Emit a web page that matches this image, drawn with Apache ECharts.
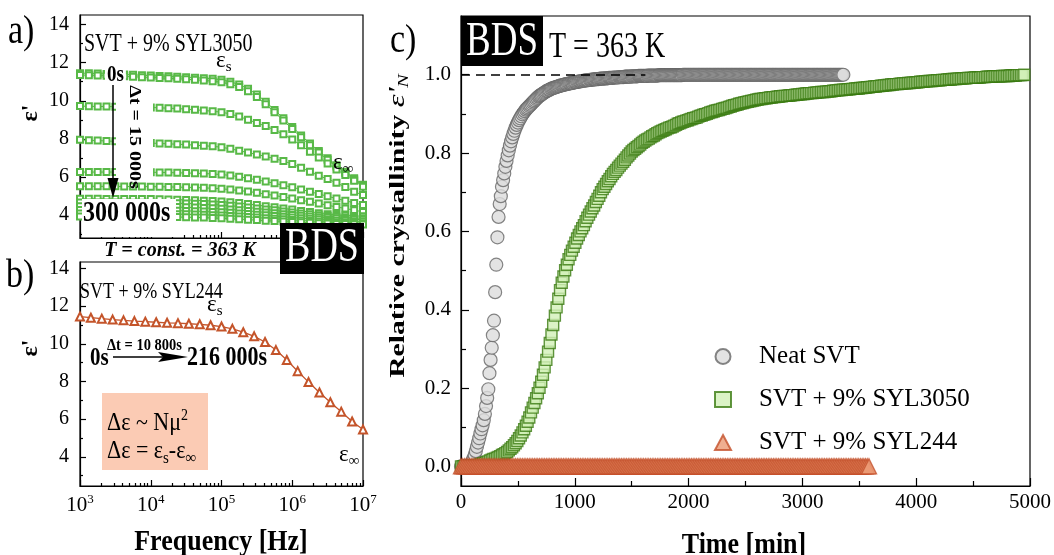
<!DOCTYPE html>
<html>
<head>
<meta charset="UTF-8">
<title>BDS - crystallinity</title>
<script src="https://cdn.jsdelivr.net/npm/echarts@6.0.0/dist/echarts.min.js"></script>
<style>
html, body { margin: 0; padding: 0; background: #fff; }
#main { width: 1054px; height: 555px; }
</style>
</head>
<body>
<div id="main"></div>
<script>
// ---- panel a) SVT + 9% SYL3050, eps' spectra [Hz] ----
var freqA = [1000, 1334, 1778, 2371, 3162, 4217, 5623, 7499,
  10000, 13335, 17783, 23714, 31623, 42170, 56234, 74989,
  100000, 133352, 177828, 237137, 316228, 421697, 562341, 749894,
  1000000, 1333521, 1778279, 2371374, 3162278, 4216965, 5623413, 7498942, 10000000];
var epsA1 = [11.45, 11.44, 11.43, 11.41, 11.40, 11.38, 11.36, 11.34, 11.32, 11.30, 11.28, 11.26, 11.24, 11.21, 11.18, 11.15, 11.10, 11.00, 10.85, 10.63, 10.33, 9.95, 9.52, 9.08, 8.63, 8.18, 7.76, 7.36, 6.98, 6.62, 6.28, 5.93, 5.60];
var epsA2 = [11.35, 11.34, 11.33, 11.31, 11.30, 11.28, 11.26, 11.24, 11.22, 11.20, 11.18, 11.16, 11.13, 11.10, 11.07, 11.03, 10.97, 10.87, 10.72, 10.50, 10.20, 9.82, 9.40, 8.96, 8.52, 8.08, 7.67, 7.28, 6.91, 6.55, 6.21, 5.87, 5.54];
var epsA3 = [9.72, 9.71, 9.70, 9.70, 9.69, 9.68, 9.67, 9.66, 9.65, 9.63, 9.61, 9.59, 9.56, 9.53, 9.49, 9.45, 9.40, 9.31, 9.17, 9.01, 8.83, 8.67, 8.47, 8.24, 7.97, 7.66, 7.33, 7.02, 6.71, 6.40, 6.10, 5.80, 5.49];
var epsA4 = [7.95, 7.93, 7.91, 7.89, 7.87, 7.85, 7.83, 7.80, 7.78, 7.76, 7.74, 7.72, 7.70, 7.67, 7.64, 7.61, 7.56, 7.48, 7.38, 7.28, 7.18, 7.08, 6.96, 6.84, 6.68, 6.49, 6.28, 6.07, 5.89, 5.70, 5.47, 5.23, 5.05];
var epsA5 = [6.26, 6.26, 6.26, 6.26, 6.26, 6.25, 6.25, 6.25, 6.25, 6.24, 6.23, 6.22, 6.21, 6.20, 6.18, 6.16, 6.13, 6.08, 6.01, 5.93, 5.85, 5.76, 5.67, 5.57, 5.46, 5.35, 5.23, 5.11, 4.99, 4.87, 4.76, 4.64, 4.53];
var epsA6 = [5.52, 5.52, 5.51, 5.51, 5.51, 5.50, 5.50, 5.50, 5.49, 5.49, 5.48, 5.47, 5.46, 5.45, 5.43, 5.41, 5.38, 5.34, 5.29, 5.24, 5.18, 5.10, 5.03, 4.95, 4.87, 4.78, 4.70, 4.61, 4.52, 4.43, 4.35, 4.26, 4.17];
var epsA7 = [4.86, 4.86, 4.86, 4.85, 4.85, 4.85, 4.85, 4.84, 4.84, 4.83, 4.82, 4.81, 4.80, 4.78, 4.76, 4.74, 4.71, 4.67, 4.63, 4.58, 4.53, 4.47, 4.41, 4.35, 4.29, 4.22, 4.16, 4.10, 4.05, 4.01, 3.98, 3.96, 3.94];
var epsA8 = [4.66, 4.66, 4.66, 4.66, 4.66, 4.65, 4.65, 4.65, 4.64, 4.64, 4.63, 4.62, 4.61, 4.60, 4.58, 4.56, 4.53, 4.49, 4.45, 4.40, 4.35, 4.30, 4.25, 4.19, 4.14, 4.09, 4.04, 3.99, 3.95, 3.91, 3.88, 3.85, 3.83];
var epsA9 = [4.46, 4.46, 4.46, 4.46, 4.46, 4.45, 4.45, 4.45, 4.44, 4.44, 4.43, 4.42, 4.41, 4.40, 4.38, 4.36, 4.33, 4.30, 4.26, 4.22, 4.18, 4.14, 4.10, 4.05, 4.01, 3.97, 3.93, 3.89, 3.86, 3.83, 3.80, 3.78, 3.76];
var epsA10 = [4.27, 4.27, 4.27, 4.27, 4.27, 4.26, 4.26, 4.26, 4.25, 4.25, 4.24, 4.23, 4.22, 4.21, 4.19, 4.17, 4.15, 4.12, 4.09, 4.06, 4.02, 3.99, 3.95, 3.91, 3.88, 3.84, 3.81, 3.78, 3.75, 3.72, 3.70, 3.68, 3.66];
var epsA11 = [4.09, 4.09, 4.09, 4.09, 4.09, 4.08, 4.08, 4.08, 4.07, 4.07, 4.06, 4.05, 4.04, 4.03, 4.02, 4.00, 3.98, 3.96, 3.93, 3.90, 3.87, 3.84, 3.81, 3.78, 3.75, 3.72, 3.69, 3.67, 3.64, 3.62, 3.60, 3.59, 3.58];
var epsA12 = [3.93, 3.93, 3.93, 3.93, 3.93, 3.92, 3.92, 3.92, 3.91, 3.91, 3.90, 3.90, 3.89, 3.88, 3.87, 3.85, 3.83, 3.81, 3.79, 3.76, 3.74, 3.71, 3.69, 3.66, 3.64, 3.62, 3.60, 3.58, 3.56, 3.54, 3.53, 3.52, 3.51];
var curvesA = [epsA1, epsA2, epsA3, epsA4, epsA5, epsA6, epsA7, epsA8, epsA9, epsA10, epsA11, epsA12];

// ---- panel b) SVT + 9% SYL244 ----
var freqB = [1000, 1425, 2031, 2894, 4125, 5878, 8377, 11938, 17013, 24245, 34551, 49239, 70170,
  100000, 142510, 203092, 289427, 412463, 587802, 837678, 1193776, 1701254, 2424462, 3455107, 4923883, 7017038, 10000000];
var epsB = [11.45, 11.39, 11.34, 11.29, 11.25, 11.21, 11.18, 11.15, 11.12, 11.10, 11.07, 11.04, 10.99,
  10.92, 10.80, 10.62, 10.40, 10.10, 9.67, 9.14, 8.55, 7.97, 7.42, 6.90, 6.40, 5.88, 5.45];

// ---- panel c) relative crystallinity vs time [min] ----
var neatStep = 10;   // min between points
var neatSVT = [
  0, 0, 0, 0, 0, 0, 0, 0, 0.003, 0.008,
  0.014, 0.021, 0.029, 0.039, 0.050, 0.061, 0.072, 0.084, 0.095, 0.105,
  0.118, 0.134, 0.154, 0.175, 0.197, 0.238, 0.272, 0.303, 0.335, 0.372,
  0.445, 0.515, 0.585, 0.637, 0.670, 0.690, 0.714, 0.731, 0.748, 0.765,
  0.780, 0.794, 0.807, 0.819, 0.830, 0.840, 0.849, 0.857, 0.865, 0.872,
  0.878, 0.884, 0.889, 0.894, 0.899, 0.903, 0.907, 0.911, 0.914, 0.917,
  0.920, 0.923, 0.926, 0.929, 0.932, 0.935, 0.938, 0.941, 0.944, 0.946,
  0.948, 0.950, 0.952, 0.954, 0.956, 0.958, 0.959, 0.961, 0.962, 0.964,
  0.965, 0.966, 0.967, 0.968, 0.969, 0.970, 0.971, 0.972, 0.973, 0.973,
  0.974, 0.975, 0.976, 0.976, 0.977, 0.978, 0.978, 0.979, 0.979, 0.980,
  0.981, 0.981, 0.982, 0.982, 0.983, 0.983, 0.984, 0.984, 0.985, 0.985,
  0.986, 0.986, 0.986, 0.987, 0.987, 0.987, 0.988, 0.988, 0.988, 0.989,
  0.989, 0.989, 0.990, 0.990, 0.990, 0.990, 0.991, 0.991, 0.991, 0.991,
  0.992, 0.992, 0.992, 0.992, 0.993, 0.993, 0.993, 0.993, 0.993, 0.994,
  0.994, 0.994, 0.994, 0.994, 0.995, 0.995, 0.995, 0.995, 0.995, 0.995,
  0.996, 0.996, 0.996, 0.996, 0.996, 0.996, 0.997, 0.997, 0.997, 0.997,
  0.997, 0.997, 0.997, 0.997, 0.998, 0.998, 0.998, 0.998, 0.998, 0.998,
  0.998, 0.998, 0.998, 0.998, 0.999, 0.999, 0.999, 0.999, 0.999, 0.999,
  0.999, 0.999, 0.999, 0.999, 0.999, 0.999, 0.999, 0.999, 0.999, 0.999,
  0.999, 0.999, 0.999, 0.999, 0.999, 1, 1, 1, 1, 1,
  1, 1, 1, 1, 1, 1, 1, 1, 1, 1,
  1, 1, 1, 1, 1, 1, 1, 1, 1, 1,
  1, 1, 1, 1, 1, 1, 1, 1, 1, 1,
  1, 1, 1, 1, 1, 1, 1, 1, 1, 1,
  1, 1, 1, 1, 1, 1, 1, 1, 1, 1,
  1, 1, 1, 1, 1, 1, 1, 1, 1, 1,
  1, 1, 1, 1, 1, 1, 1, 1, 1, 1,
  1, 1, 1, 1, 1, 1, 1, 1, 1, 1,
  1, 1, 1, 1, 1, 1, 1, 1, 1, 1,
  1, 1, 1, 1, 1, 1, 1, 1, 1, 1,
  1, 1, 1, 1, 1, 1, 1, 1, 1, 1,
  1, 1, 1, 1, 1, 1, 1, 1, 1, 1,
  1, 1, 1, 1, 1, 1, 1, 1, 1, 1,
  1, 1, 1, 1, 1, 1, 1
];
var sylStep = 15;
var syl3050 = [
  0, 0, 0, 0.001, 0.001, 0.001, 0.002, 0.002, 0.003, 0.003, 0.004, 0.005, 0.006, 0.008, 0.009, 0.011, 0.013, 0.015, 0.017, 0.019,
  0.020, 0.022, 0.024, 0.026, 0.029, 0.031, 0.034, 0.037, 0.041, 0.045, 0.049, 0.054, 0.059, 0.065, 0.072, 0.079, 0.087, 0.095, 0.104, 0.114,
  0.125, 0.138, 0.150, 0.162, 0.174, 0.187, 0.201, 0.216, 0.234, 0.253, 0.272, 0.293, 0.315, 0.337, 0.361, 0.385, 0.406, 0.428, 0.450, 0.469,
  0.485, 0.501, 0.515, 0.529, 0.540, 0.551, 0.561, 0.571, 0.582, 0.591, 0.600, 0.608, 0.616, 0.626, 0.635, 0.643, 0.651, 0.659, 0.666, 0.675,
  0.683, 0.691, 0.700, 0.708, 0.714, 0.721, 0.728, 0.734, 0.741, 0.747, 0.752, 0.757, 0.763, 0.768, 0.773, 0.778, 0.783, 0.789, 0.794, 0.799,
  0.804, 0.808, 0.811, 0.815, 0.818, 0.822, 0.826, 0.829, 0.832, 0.835, 0.837, 0.840, 0.843, 0.845, 0.848, 0.851, 0.853, 0.855, 0.857, 0.859,
  0.861, 0.863, 0.865, 0.866, 0.868, 0.870, 0.872, 0.875, 0.876, 0.878, 0.880, 0.881, 0.883, 0.884, 0.886, 0.887, 0.889, 0.890, 0.891, 0.893,
  0.895, 0.896, 0.898, 0.899, 0.900, 0.902, 0.904, 0.905, 0.906, 0.908, 0.909, 0.910, 0.911, 0.913, 0.914, 0.915, 0.916, 0.918, 0.919, 0.921,
  0.922, 0.923, 0.924, 0.926, 0.927, 0.928, 0.929, 0.930, 0.931, 0.932, 0.933, 0.934, 0.935, 0.936, 0.937, 0.938, 0.938, 0.939, 0.940, 0.940,
  0.941, 0.942, 0.942, 0.943, 0.943, 0.944, 0.944, 0.945, 0.945, 0.946, 0.946, 0.946, 0.947, 0.947, 0.948, 0.948, 0.949, 0.949, 0.950, 0.950,
  0.951, 0.951, 0.952, 0.952, 0.953, 0.953, 0.953, 0.954, 0.954, 0.955, 0.955, 0.956, 0.956, 0.956, 0.957, 0.957, 0.958, 0.958, 0.959, 0.959,
  0.960, 0.960, 0.961, 0.961, 0.962, 0.962, 0.962, 0.963, 0.963, 0.964, 0.964, 0.965, 0.965, 0.965, 0.966, 0.966, 0.967, 0.967, 0.968, 0.968,
  0.969, 0.969, 0.970, 0.970, 0.971, 0.971, 0.972, 0.972, 0.973, 0.973, 0.974, 0.974, 0.975, 0.975, 0.976, 0.976, 0.976, 0.977, 0.977, 0.978,
  0.978, 0.978, 0.979, 0.979, 0.980, 0.980, 0.980, 0.981, 0.981, 0.982, 0.982, 0.982, 0.983, 0.983, 0.984, 0.984, 0.984, 0.985, 0.985, 0.986,
  0.986, 0.986, 0.987, 0.987, 0.987, 0.988, 0.988, 0.988, 0.989, 0.989, 0.989, 0.990, 0.990, 0.990, 0.991, 0.991, 0.991, 0.992, 0.992, 0.992,
  0.992, 0.993, 0.993, 0.993, 0.993, 0.994, 0.994, 0.994, 0.995, 0.995, 0.995, 0.995, 0.996, 0.996, 0.996, 0.996, 0.996, 0.997, 0.997, 0.997,
  0.997, 0.997, 0.998, 0.998, 0.998, 0.998, 0.999, 0.999, 0.999, 0.999, 1.000
];
var syl244Step = 15;
var syl244 = [
  0, 0, 0, 0, 0, 0, 0, 0, 0, 0, 0, 0, 0, 0, 0, 0, 0, 0, 0, 0,
  0, 0, 0, 0, 0, 0, 0, 0, 0, 0, 0, 0, 0, 0, 0, 0, 0, 0, 0, 0,
  0, 0, 0, 0, 0, 0, 0, 0, 0, 0, 0, 0, 0, 0, 0, 0, 0, 0, 0, 0,
  0, 0, 0, 0, 0, 0, 0, 0, 0, 0, 0, 0, 0, 0, 0, 0, 0, 0, 0, 0,
  0, 0, 0, 0, 0, 0, 0, 0, 0, 0, 0, 0, 0, 0, 0, 0, 0, 0, 0, 0,
  0, 0, 0, 0, 0, 0, 0, 0, 0, 0, 0, 0, 0, 0, 0, 0, 0, 0, 0, 0,
  0, 0, 0, 0, 0, 0, 0, 0, 0, 0, 0, 0, 0, 0, 0, 0, 0, 0, 0, 0,
  0, 0, 0, 0, 0, 0, 0, 0, 0, 0, 0, 0, 0, 0, 0, 0, 0, 0, 0, 0,
  0, 0, 0, 0, 0, 0, 0, 0, 0, 0, 0, 0, 0, 0, 0, 0, 0, 0, 0, 0,
  0, 0, 0, 0, 0, 0, 0, 0, 0, 0, 0, 0, 0, 0, 0, 0, 0, 0, 0, 0,
  0, 0, 0, 0, 0, 0, 0, 0, 0, 0, 0, 0, 0, 0, 0, 0, 0, 0, 0, 0,
  0, 0, 0, 0, 0, 0, 0, 0, 0, 0, 0, 0, 0, 0, 0, 0, 0, 0, 0, 0
];
var plateauLineEnd = 1620;   // dashed eps'_N = 1 guide ends here [min]

// tick values
var epsTicks = [4, 6, 8, 10, 12, 14];
var epsMinor = [3, 5, 7, 9, 11, 13];
var decades = [1000, 10000, 100000, 1000000];
var minorMult = [2, 3, 4, 5, 6, 7, 8, 9];
var crystTicks = [0, 0.2, 0.4, 0.6, 0.8, 1.0];
var crystMinor = [0.1, 0.3, 0.5, 0.7, 0.9, 1.1];
var timeMinor = [500, 1500, 2500, 3500, 4500];

var SERIF = 'Liberation Serif, DejaVu Serif, serif';
var GREEN_A = '#58b947';
var ORANGE_B = '#c4542a';

var logMinor = [];
decades.forEach(function (d) {
  minorMult.forEach(function (m) { logMinor.push(Math.log10(m * d)); });
});

function pairs(xs, ys) { return ys.map(function (v, i) { return [xs[i], v]; }); }
function timed(step, ys) { return ys.map(function (v, i) { return [i * step, v]; }); }

var tickLine = { color: '#000', width: 1.2 };
var axisLineBlack = { show: true, onZero: false, lineStyle: { color: '#000', width: 1.2 } };

function logAxisHidden(grid) {
  return { gridIndex: grid, type: 'log', logBase: 10, min: 1000, max: 10000000, show: false };
}
function decadeAxis(grid, labels) {
  return {
    gridIndex: grid, type: 'value', position: 'bottom', min: 3, max: 7, interval: 1,
    axisLine: axisLineBlack,
    axisTick: { show: true, inside: true, length: 6, lineStyle: tickLine },
    splitLine: { show: false },
    axisLabel: labels ? {
      show: true, margin: 7, color: '#000', fontFamily: SERIF, fontSize: 21,
      formatter: function (v) { return '10{sup|' + v + '}'; },
      rich: { sup: { fontFamily: SERIF, fontSize: 13, color: '#000', padding: [0, 0, 11, 0] } }
    } : { show: false }
  };
}
function minorX(grid, vals, len, min, max) {
  return {
    gridIndex: grid, type: 'value', position: 'bottom', min: min, max: max,
    axisLine: { show: false, onZero: false },
    axisTick: { show: true, inside: true, length: len, lineStyle: tickLine, customValues: vals },
    axisLabel: { show: false }, splitLine: { show: false }
  };
}
function epsAxis(grid, min, max) {
  return {
    gridIndex: grid, type: 'value', position: 'left', min: min, max: max,
    axisLine: axisLineBlack,
    axisTick: { show: true, inside: true, length: 6, lineStyle: tickLine, customValues: epsTicks },
    axisLabel: { show: true, margin: 11, color: '#000', fontFamily: SERIF, fontSize: 20, customValues: epsTicks },
    splitLine: { show: false }
  };
}
function minorY(grid, vals, len, min, max) {
  return {
    gridIndex: grid, type: 'value', position: 'left', min: min, max: max,
    axisLine: { show: false, onZero: false },
    axisTick: { show: true, inside: true, length: len, lineStyle: tickLine, customValues: vals },
    axisLabel: { show: false }, splitLine: { show: false }
  };
}

function txt(x, y, text, size, o) {
  o = o || {};
  var el = {
    type: 'text', x: x, y: y, z: o.z || 100, silent: true,
    rotation: o.rot || 0, scaleX: o.sx || 1, scaleY: o.sy || 1,
    style: {
      text: text, fill: o.fill || '#000', fontFamily: SERIF, fontSize: size,
      fontWeight: o.bold ? 'bold' : 'normal', fontStyle: o.italic ? 'italic' : 'normal',
      align: o.align || 'left', verticalAlign: 'middle'
    }
  };
  if (o.rich) el.style.rich = o.rich;
  if (o.bg) { el.style.backgroundColor = o.bg; el.style.padding = o.pad || [0, 2]; }
  return el;
}
var richEps = {
  e: { fontFamily: SERIF, fontSize: 23, fill: '#000' },
  s: { fontFamily: SERIF, fontSize: 15, fill: '#000', padding: [13, 0, 0, 0] },
  sup: { fontFamily: SERIF, fontSize: 14, fill: '#000', padding: [0, 0, 12, 0] }
};
var richTitleC = {
  b: { fontFamily: SERIF, fontSize: 22, fontWeight: 'bold', fill: '#000' },
  e: { fontFamily: SERIF, fontSize: 24, fontStyle: 'italic', fill: '#000' },
  n: { fontFamily: SERIF, fontSize: 15, fontStyle: 'italic', fill: '#000', padding: [12, 0, 0, 0] }
};

var series = [];
curvesA.forEach(function (c, i) {
  series.push({
    name: 'a' + i, type: 'line', xAxisIndex: 0, yAxisIndex: 0,
    data: pairs(freqA, c), symbol: 'emptyRect', symbolSize: 6,
    lineStyle: { color: GREEN_A, width: 1 },
    itemStyle: { color: GREEN_A, borderColor: GREEN_A, borderWidth: 1 },
    silent: true, animation: false
  });
});
series.push({
  name: 'b', type: 'line', xAxisIndex: 3, yAxisIndex: 2,
  data: pairs(freqB, epsB), symbol: 'emptyTriangle', symbolSize: 8,
  lineStyle: { color: ORANGE_B, width: 1.3 },
  itemStyle: { color: ORANGE_B, borderColor: ORANGE_B, borderWidth: 1 },
  silent: true, animation: false
});
series.push({
  name: 'Neat SVT', type: 'scatter', xAxisIndex: 6, yAxisIndex: 4,
  data: timed(neatStep, neatSVT), symbol: 'circle', symbolSize: 13,
  itemStyle: { color: '#dcdcdc', borderColor: '#666', borderWidth: 1.2 },
  markLine: {
    silent: true, symbol: ['none', 'none'], animation: false,
    lineStyle: { color: '#000', type: [9, 6], width: 1.6 }, label: { show: false },
    data: [[{ coord: [0, 1] }, { coord: [plateauLineEnd, 1] }]]
  },
  silent: true, animation: false
});
series.push({
  name: 'SVT + 9% SYL3050', type: 'scatter', xAxisIndex: 6, yAxisIndex: 4,
  data: timed(sylStep, syl3050), symbol: 'rect', symbolSize: 11,
  itemStyle: { color: '#d2f0b8', borderColor: '#3a7a10', borderWidth: 1.4 },
  silent: true, animation: false
});
series.push({
  name: 'SVT + 9% SYL244', type: 'scatter', xAxisIndex: 6, yAxisIndex: 4,
  data: timed(syl244Step, syl244), symbol: 'triangle', symbolSize: 15,
  itemStyle: { color: '#eb9a74', borderColor: '#c4502a', borderWidth: 1.4 },
  silent: true, animation: false
});

var graphics = [
  // panel a
  txt(8, 33, 'a)', 34, { sy: 1.15 }),
  txt(84, 44, 'SVT + 9% SYL3050', 20, { sy: 1.3 }),
  txt(216, 61, '{e|ε}{s|s}', 23, { rich: richEps }),
  txt(333, 163, '{e|ε}{s|∞}', 23, { rich: richEps }),
  { type: 'rect', z: 50, silent: true, shape: { x: 116, y: 93, width: 37, height: 86 }, style: { fill: '#fff' } },
  { type: 'rect', z: 50, silent: true, shape: { x: 82, y: 199, width: 94, height: 38 }, style: { fill: '#fff' } },
  txt(105, 75, '0s', 19, { bold: true, bg: '#fff', sy: 1.2 }),
  { type: 'line', z: 101, silent: true, shape: { x1: 113, y1: 85, x2: 113, y2: 184 }, style: { stroke: '#000', lineWidth: 1.5 } },
  { type: 'polygon', z: 101, silent: true, shape: { points: [[107.5, 178], [118.5, 178], [113, 198]] }, style: { fill: '#000' } },
  txt(134, 137, 'Δt = 15 000s', 16, { bold: true, align: 'center', rot: -Math.PI / 2, sx: 1.25 }),
  txt(83, 214, '300 000s', 24, { bold: true, sy: 1.2 }),
  txt(180, 251, 'T = const. = 363 K', 20, { bold: true, italic: true, align: 'center' }),
  { type: 'rect', z: 100, silent: true, shape: { x: 280, y: 223, width: 84, height: 51 }, style: { fill: '#000' } },
  txt(322, 249, 'BDS', 38, { fill: '#fff', align: 'center', sy: 1.25, z: 101 }),
  txt(31, 113, "ε'", 24, { bold: true, align: 'center', rot: Math.PI / 2 }),
  // panel b
  txt(6, 277, 'b)', 34, { sy: 1.15 }),
  txt(80, 292, 'SVT + 9% SYL244', 18, { sy: 1.3 }),
  txt(207, 305, '{e|ε}{s|s}', 23, { rich: richEps }),
  txt(107, 345, 'Δt = 10 800s', 14.5, { bold: true, sy: 1.2 }),
  txt(90, 358, '0s', 21, { bold: true, sy: 1.2 }),
  { type: 'line', z: 101, silent: true, shape: { x1: 113, y1: 357, x2: 166, y2: 357 }, style: { stroke: '#000', lineWidth: 1.5 } },
  { type: 'polygon', z: 101, silent: true, shape: { points: [[158, 352], [188, 357], [158, 362], [163, 357]] }, style: { fill: '#000' } },
  txt(187, 358, '216 000s', 22, { bold: true, sy: 1.2 }),
  { type: 'rect', z: 60, silent: true, shape: { x: 102, y: 393, width: 106, height: 77 }, style: { fill: '#fbcbb4' } },
  txt(107, 423, 'Δε ~ Nμ{sup|2}', 22, { rich: richEps, sy: 1.15 }),
  txt(107, 451, 'Δε = {e|ε}{s|s}-{e|ε}{s|∞}', 22, { rich: { e: { fontFamily: SERIF, fontSize: 22, fill: '#000' }, s: richEps.s }, sy: 1.15 }),
  txt(339, 455, '{e|ε}{s|∞}', 23, { rich: richEps }),
  txt(31, 348, "ε'", 24, { bold: true, align: 'center', rot: Math.PI / 2 }),
  txt(221, 542, 'Frequency [Hz]', 26, { bold: true, align: 'center', sy: 1.15 }),
  // panel c
  txt(390, 42, 'c)', 34, { sy: 1.15 }),
  { type: 'rect', z: 100, silent: true, shape: { x: 461, y: 16, width: 82, height: 50 }, style: { fill: '#000' } },
  txt(502, 42, 'BDS', 37, { fill: '#fff', align: 'center', sy: 1.3, z: 101 }),
  txt(549, 47, 'T = 363 K', 28, { sy: 1.3 }),
  txt(398, 226, '{b|Relative crystallinity }{e|ε\'}{n|N}', 22, { rich: richTitleC, align: 'center', rot: Math.PI / 2, sx: 1.35 }),
  txt(744, 545, 'Time [min]', 26, { bold: true, align: 'center', sy: 1.15 })
];

var option = {
  animation: false,
  backgroundColor: '#fff',
  grid: [
    { left: 80, top: 15, width: 283, height: 223, show: true, borderColor: '#000', borderWidth: 1.2 },
    { left: 80, top: 262, width: 283, height: 224, show: true, borderColor: '#000', borderWidth: 1.2 },
    { left: 461, top: 16, width: 569, height: 470, show: true, borderColor: '#000', borderWidth: 1.2 }
  ],
  xAxis: [
    logAxisHidden(0), decadeAxis(0, false), minorX(0, logMinor, 3, 3, 7),
    logAxisHidden(1), decadeAxis(1, true), minorX(1, logMinor, 3, 3, 7),
    {
      gridIndex: 2, type: 'value', position: 'bottom', min: 0, max: 5000, interval: 1000,
      axisLine: axisLineBlack,
      axisTick: { show: true, inside: true, length: 8, lineStyle: tickLine },
      axisLabel: {
        show: true, margin: 6, color: '#000', fontFamily: SERIF, fontSize: 21,
        formatter: function (v) { return String(v); }
      },
      splitLine: { show: false }
    },
    minorX(2, timeMinor, 5, 0, 5000)
  ],
  yAxis: [
    epsAxis(0, 2.8, 14.5), minorY(0, epsMinor, 3, 2.8, 14.5),
    epsAxis(1, 2.45, 14.35), minorY(1, epsMinor, 3, 2.45, 14.35),
    {
      gridIndex: 2, type: 'value', position: 'left', min: -0.05, max: 1.15,
      axisLine: axisLineBlack,
      axisTick: { show: true, inside: true, length: 8, lineStyle: tickLine, customValues: crystTicks },
      axisLabel: {
        show: true, margin: 10, color: '#000', fontFamily: SERIF, fontSize: 21, customValues: crystTicks,
        formatter: function (v) { return v.toFixed(1); }
      },
      splitLine: { show: false }
    },
    minorY(2, crystMinor, 5, -0.05, 1.15)
  ],
  legend: {
    data: ['Neat SVT', 'SVT + 9% SYL3050', 'SVT + 9% SYL244'],
    orient: 'vertical', left: 709, top: 339, itemGap: 18,
    itemWidth: 16, itemHeight: 15, selectedMode: false,
    textStyle: { fontFamily: SERIF, fontSize: 25, color: '#000', padding: [0, 0, 0, 23] }
  },
  series: series,
  graphic: graphics
};

var chart = echarts.init(document.getElementById('main'));
chart.setOption(option);
</script>
</body>
</html>
